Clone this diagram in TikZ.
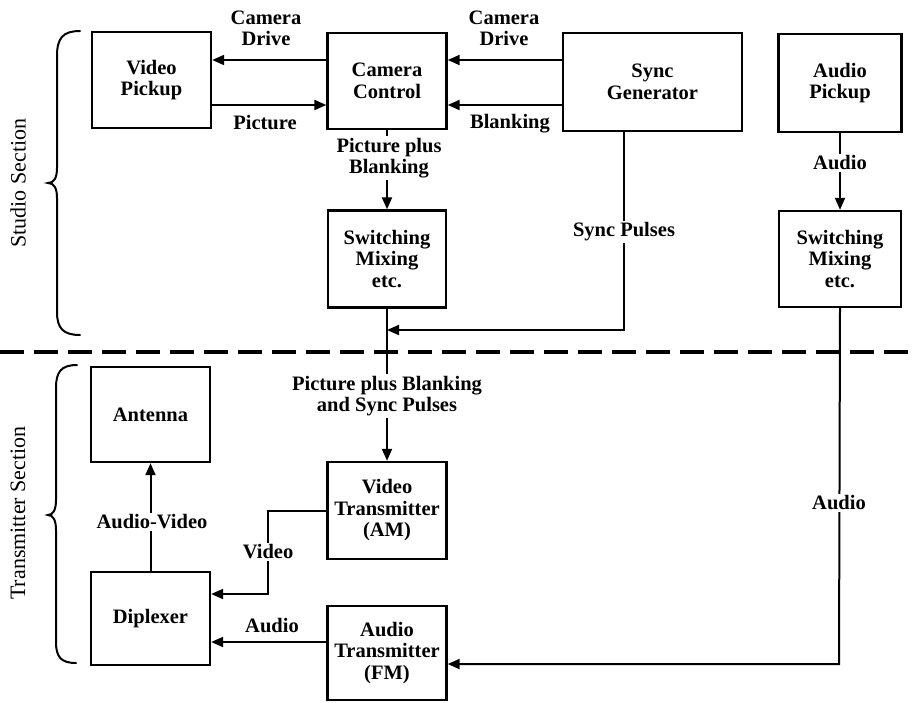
\documentclass[tikz,border=0pt]{standalone}
\usepackage{fontspec}
\setmainfont{Liberation Serif}
\usetikzlibrary{arrows.meta}
\begin{document}
\begin{tikzpicture}[x=1pt,y=-1pt,
  blk/.style={draw,line width=2.4pt,inner sep=0pt,align=center,font=\fontsize{20.5}{21.5}\selectfont\bfseries},
  lbl/.style={align=center,inner sep=2pt,font=\fontsize{20.5}{21}\selectfont\bfseries},
  wlbl/.style={lbl,fill=white},
  con/.style={line width=2pt},
  arr/.style={con,-{Triangle[length=12pt,width=10pt]}},
  brc/.style={line width=2pt,line cap=round},
  sect/.style={rotate=90,font=\fontsize{22}{24}\selectfont}]
\useasboundingbox (0,0) rectangle (915,702);
% blocks
\node[blk,minimum width=119pt,minimum height=96pt] (vp) at (151.5,80) {Video\\Pickup};
\node[blk,minimum width=119pt,minimum height=96pt] (cc) at (387,81) {Camera\\Control};
\node[blk,minimum width=179pt,minimum height=98pt] (sg) at (652.5,82) {Sync\\Generator};
\node[blk,minimum width=123pt,minimum height=98pt] (ap) at (840,83) {Audio\\Pickup};
\node[blk,minimum width=118pt,minimum height=97pt] (sw1) at (387,259) {Switching\\Mixing\\etc.};
\node[blk,minimum width=122pt,minimum height=96pt] (sw2) at (840,259) {Switching\\Mixing\\etc.};
\node[blk,minimum width=119pt,minimum height=95pt] (ant) at (150.5,414.5) {Antenna};
\node[blk,minimum width=119pt,minimum height=93pt] (dip) at (150.5,618.5) {Diplexer};
\node[blk,minimum width=119pt,minimum height=97pt] (vt) at (387,510.5) {Video\\Transmitter\\(AM)};
\node[blk,minimum width=119pt,minimum height=94pt] (at) at (387,653) {Audio\\Transmitter\\(FM)};
% dashed separator
\coordinate (dl) at (0,352);
\coordinate (dr) at (915,352);
\draw[line width=3.5pt,dash pattern=on 24pt off 10pt] (dl) -- (dr);
% studio connectors
\draw[arr] (cc.west |- 0,60) -- (vp.east |- 0,60);
\draw[arr] (vp.east |- 0,105) -- (cc.west |- 0,105);
\draw[arr] (sg.west |- 0,60) -- (cc.east |- 0,60);
\draw[arr] (sg.west |- 0,105) -- (cc.east |- 0,105);
\draw[arr] (cc.south) -- (sw1.north);
\node[wlbl] (lpb) at (389,158) {Picture plus\\Blanking};
\coordinate (sp1) at (624,330);
\draw[arr] (sg.south -| sp1) -- (sp1) -- (sw1.south |- sp1);
\node[wlbl] (lsp) at (624,232) {Sync Pulses};
\draw[arr] (ap.south) -- (sw2.north);
\node[wlbl] (la1) at (840,163) {Audio};
\node[lbl] (lcd1) at (266,28) {Camera\\Drive};
\node[lbl] (lpic) at (265,123) {Picture};
\node[lbl] (lcd2) at (504,28) {Camera\\Drive};
\node[lbl] (lbl1) at (510,124) {Blanking};
% transmitter connectors
\draw[arr] (sw1.south) -- (vt.north);
\node[wlbl] (lpbs) at (387,396) {Picture plus Blanking\\and Sync Pulses};
\coordinate (au1) at (839,664);
\draw[arr] (sw2.south) -- (au1) -- (at.east |- au1);
\node[wlbl] (la2) at (839,503) {Audio};
\coordinate (v1) at (268,511);
\coordinate (v2) at (268,594);
\draw[arr] (vt.west |- v1) -- (v1) -- (v2) -- (dip.east |- v2);
\node[wlbl] (lvid) at (268,552) {Video};
\draw[arr] (at.west |- 0,642) -- (dip.east |- 0,642);
\node[lbl] (la3) at (272,626) {Audio};
\draw[arr] (dip.north) -- (ant.south);
\node[wlbl] (lav) at (152,522) {Audio-Video};
% braces
\draw[brc] (80,31) .. controls (63,31) and (57,38) .. (57,56) -- (57,168)
  .. controls (57,178) and (54,183) .. (48,183)
  .. controls (54,183) and (57,188) .. (57,198) -- (57,312)
  .. controls (57,328) and (63,335) .. (80,335);
\draw[brc] (77,365) .. controls (61,365) and (56,372) .. (56,388) -- (56,500)
  .. controls (56,510) and (53,515) .. (48,515)
  .. controls (53,515) and (56,520) .. (56,530) -- (56,642)
  .. controls (56,657) and (61,663) .. (76,663);
\node[sect] (ss) at (18,183) {Studio Section};
\node[sect] (ts) at (18,513) {Transmitter Section};
\end{tikzpicture}
\end{document}
